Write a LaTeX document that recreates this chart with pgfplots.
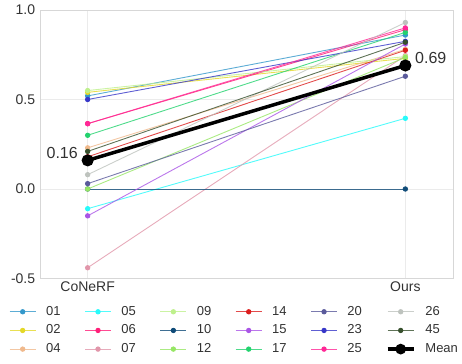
\documentclass[border=0pt]{standalone}
\usepackage{fontspec}
\setmainfont{Liberation Sans}
\usepackage{pgfplots}
\pgfplotsset{compat=1.18}
\definecolor{c01}{RGB}{52,152,203}
\definecolor{c02}{RGB}{228,216,40}
\definecolor{c04}{RGB}{240,185,140}
\definecolor{c05}{RGB}{40,250,250}
\definecolor{c06}{RGB}{255,30,120}
\definecolor{c07}{RGB}{225,150,170}
\definecolor{c09}{RGB}{190,240,140}
\definecolor{c10}{RGB}{15,75,120}
\definecolor{c12}{RGB}{150,230,100}
\definecolor{c14}{RGB}{220,30,30}
\definecolor{c15}{RGB}{170,85,230}
\definecolor{c17}{RGB}{35,210,110}
\definecolor{c20}{RGB}{90,90,155}
\definecolor{c23}{RGB}{55,55,200}
\definecolor{c25}{RGB}{255,40,150}
\definecolor{c26}{RGB}{190,195,190}
\definecolor{c45}{RGB}{55,80,45}
\definecolor{gridc}{RGB}{235,235,235}
\definecolor{framec}{RGB}{215,215,215}
\definecolor{txt}{RGB}{50,50,50}
\pgfplotsset{
  ser/.style={color=#1, line width=0.9bp, draw opacity=0.8, mark=*, mark size=2.2bp,
    mark options={solid, draw opacity=1, fill opacity=1}},
}
\begin{document}
\fontsize{14bp}{16bp}\selectfont
\begin{tikzpicture}
\path[use as bounding box] (-40bp,-85bp) rectangle (422bp,278.5bp);
\begin{axis}[
  scale only axis, width=413bp, height=268.5bp,
  xmin=-0.15, xmax=1.15, ymin=-0.5, ymax=1.0,
  xtick={0,1}, xticklabels={CoNeRF,Ours},
  ytick={-0.5,0,0.5,1.0},
  yticklabel style={/pgf/number format/.cd, fixed, fixed zerofill, precision=1},
  /pgf/number format/assume math mode=true,
  tick style={draw=none},
  grid=major, major grid style={gridc, line width=0.8bp},
  axis line style={framec, line width=0.8bp},
  ticklabel style={font=\fontsize{14bp}{16bp}\selectfont, text=txt},
  xticklabel style={yshift=2bp},
  legend style={at={(-0.075,-0.095)}, anchor=north west, draw=none, fill=none,
    font=\fontsize{13bp}{15bp}\selectfont, text=txt,
    row sep=3.5bp, inner sep=0pt,
    /tikz/every odd column/.append style={column sep=8bp},
    /tikz/every even column/.append style={column sep=22bp}},
  legend columns=6, legend cell align=left,
  legend image code/.code={\draw[mark repeat=2,mark phase=2,#1] plot coordinates {(0bp,0bp) (13bp,0bp) (26bp,0bp)};},
]
\addplot[ser=c01, forget plot] coordinates {(0,0.52) (1,0.86)};
\addplot[ser=c02, forget plot] coordinates {(0,0.54) (1,0.73)};
\addplot[ser=c04, forget plot] coordinates {(0,0.23) (1,0.78)};
\addplot[ser=c05, forget plot] coordinates {(0,-0.11) (1,0.395)};
\addplot[ser=c06, forget plot] coordinates {(0,0.365) (1,0.89)};
\addplot[ser=c07, forget plot] coordinates {(0,-0.44) (1,0.745)};
\addplot[ser=c09, forget plot] coordinates {(0,0.55) (1,0.74)};
\addplot[ser=c10, forget plot] coordinates {(0,0.0) (1,0.0)};
\addplot[ser=c12, forget plot] coordinates {(0,0.0) (1,0.735)};
\addplot[ser=c14, forget plot] coordinates {(0,0.18) (1,0.775)};
\addplot[ser=c15, forget plot] coordinates {(0,-0.15) (1,0.81)};
\addplot[ser=c17, forget plot] coordinates {(0,0.30) (1,0.875)};
\addplot[ser=c20, forget plot] coordinates {(0,0.03) (1,0.63)};
\addplot[ser=c23, forget plot] coordinates {(0,0.50) (1,0.825)};
\addplot[ser=c25, forget plot] coordinates {(0,0.365) (1,0.90)};
\addplot[ser=c26, forget plot] coordinates {(0,0.08) (1,0.93)};
\addplot[ser=c45, forget plot] coordinates {(0,0.21) (1,0.82)};
\addplot[black, line width=3.5bp, mark=*, mark size=4.2bp, mark options={solid}, forget plot] coordinates {(0,0.16) (1,0.69)};
\node[anchor=east, text=txt, font=\fontsize{16bp}{18bp}\selectfont] at ([xshift=-5bp,yshift=7bp]axis cs:0,0.16) {0.16};
\node[anchor=west, text=txt, font=\fontsize{16bp}{18bp}\selectfont] at ([xshift=5bp,yshift=7bp]axis cs:1,0.69) {0.69};
% legend in row-major order
\addlegendimage{ser=c01}\addlegendentry{01}
\addlegendimage{ser=c05}\addlegendentry{05}
\addlegendimage{ser=c09}\addlegendentry{09}
\addlegendimage{ser=c14}\addlegendentry{14}
\addlegendimage{ser=c20}\addlegendentry{20}
\addlegendimage{ser=c26}\addlegendentry{26}
\addlegendimage{ser=c02}\addlegendentry{02}
\addlegendimage{ser=c06}\addlegendentry{06}
\addlegendimage{ser=c10}\addlegendentry{10}
\addlegendimage{ser=c15}\addlegendentry{15}
\addlegendimage{ser=c23}\addlegendentry{23}
\addlegendimage{ser=c45}\addlegendentry{45}
\addlegendimage{ser=c04}\addlegendentry{04}
\addlegendimage{ser=c07}\addlegendentry{07}
\addlegendimage{ser=c12}\addlegendentry{12}
\addlegendimage{ser=c17}\addlegendentry{17}
\addlegendimage{ser=c25}\addlegendentry{25}
\addlegendimage{black, line width=3.5bp, mark=*, mark size=3.5bp, mark options={solid}}\addlegendentry{Mean}
\end{axis}
\end{tikzpicture}
\end{document}
